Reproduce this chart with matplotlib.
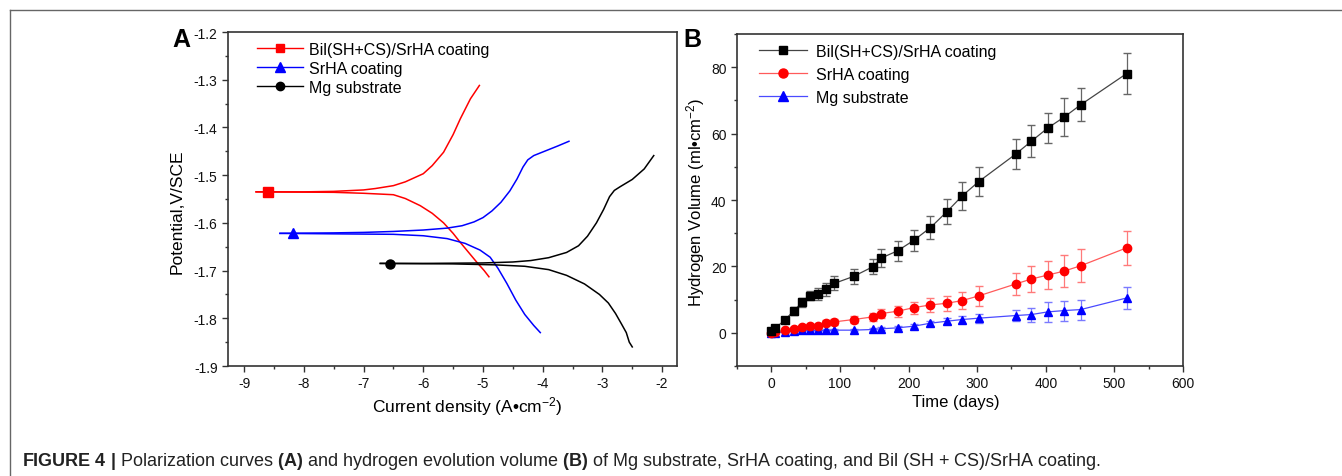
import matplotlib
matplotlib.use('Agg')
import matplotlib.pyplot as plt
from matplotlib.lines import Line2D
from matplotlib.ticker import MultipleLocator, FormatStrFormatter

plt.rcParams['font.family'] = 'Liberation Sans'
plt.rcParams['axes.unicode_minus'] = False
plt.rcParams['mathtext.fontset'] = 'custom'
plt.rcParams['mathtext.rm'] = 'Liberation Sans'
plt.rcParams['mathtext.it'] = 'Liberation Sans'
plt.rcParams['mathtext.bf'] = 'Liberation Sans:bold'

# ---- Panel A: polarization curves (log current density vs potential) ----
labels_a = ['Bil(SH+CS)/SrHA coating', 'SrHA coating', 'Mg substrate']

red_an_x = [-8.8, -8.0, -7.5, -7.0, -6.8, -6.5, -6.3, -6.0, -5.85, -5.66, -5.5, -5.38, -5.21, -5.06]
red_an_y = [-1.535, -1.535, -1.534, -1.531, -1.528, -1.522, -1.514, -1.497, -1.48, -1.452, -1.415, -1.382, -1.34, -1.312]
red_ca_x = [-8.8, -7.5, -7.0, -6.5, -6.3, -6.05, -5.85, -5.66, -5.5, -5.38, -5.24, -5.1, -4.98, -4.9]
red_ca_y = [-1.535, -1.536, -1.538, -1.541, -1.549, -1.564, -1.58, -1.6, -1.622, -1.641, -1.662, -1.683, -1.7, -1.713]

blue_an_x = [-8.4, -7.5, -7.0, -6.5, -6.0, -5.6, -5.35, -5.15, -5.0, -4.85, -4.7, -4.55, -4.43, -4.33, -4.25, -4.15, -3.95, -3.75, -3.56]
blue_an_y = [-1.622, -1.621, -1.62, -1.618, -1.615, -1.611, -1.606, -1.598, -1.589, -1.575, -1.557, -1.533, -1.508, -1.483, -1.468, -1.459, -1.449, -1.439, -1.429]
blue_ca_x = [-8.4, -7.5, -6.5, -6.0, -5.6, -5.3, -5.05, -4.88, -4.75, -4.6, -4.45, -4.3, -4.15, -4.04]
blue_ca_y = [-1.622, -1.623, -1.624, -1.627, -1.633, -1.643, -1.657, -1.672, -1.695, -1.727, -1.762, -1.792, -1.815, -1.83]

black_an_x = [-6.72, -6.0, -5.0, -4.5, -4.2, -3.9, -3.6, -3.4, -3.25, -3.1, -2.98, -2.88, -2.8, -2.7, -2.5, -2.3, -2.14]
black_an_y = [-1.685, -1.685, -1.684, -1.682, -1.679, -1.673, -1.662, -1.648, -1.628, -1.6, -1.572, -1.545, -1.532, -1.524, -1.509, -1.487, -1.459]
black_ca_x = [-6.72, -5.5, -4.8, -4.3, -3.9, -3.6, -3.3, -3.05, -2.9, -2.78, -2.68, -2.6, -2.55, -2.5]
black_ca_y = [-1.685, -1.686, -1.688, -1.691, -1.698, -1.71, -1.728, -1.75, -1.768, -1.79, -1.812, -1.83, -1.85, -1.86]

# corrosion-potential markers
mark_x = [-8.6, -8.18, -6.55]
mark_y = [-1.535, -1.621, -1.686]

# ---- Panel B: hydrogen evolution ----
labels_b = ['Bil(SH+CS)/SrHA coating', 'SrHA coating', 'Mg substrate']
days = [0, 5, 20, 33, 45, 57, 68, 80, 92, 120, 148, 160, 184, 208, 232, 256, 278, 302, 356, 379, 403, 427, 451, 518]
vol_bil = [0.5, 1.3, 3.9, 6.7, 9.2, 11.2, 11.8, 13.1, 14.9, 17.0, 19.9, 22.5, 24.7, 27.9, 31.7, 36.5, 41.2, 45.5, 53.8, 57.7, 61.7, 65.0, 68.7, 78.1]
err_bil = [0.3, 0.4, 0.6, 1.2, 1.4, 1.4, 1.8, 2.0, 2.1, 2.3, 2.3, 2.6, 3.0, 3.2, 3.5, 3.8, 4.2, 4.4, 4.6, 4.8, 4.4, 5.6, 5.0, 6.1]
vol_srha = [0.0, 0.3, 0.7, 1.1, 1.6, 1.9, 2.2, 3.0, 3.3, 4.0, 4.8, 5.8, 6.5, 7.6, 8.4, 8.9, 9.7, 11.1, 14.7, 16.2, 17.4, 18.6, 20.2, 25.6]
err_srha = [0.3, 0.3, 0.4, 0.5, 0.5, 0.5, 0.6, 0.8, 0.9, 1.0, 1.3, 1.4, 1.6, 1.8, 2.0, 2.3, 2.6, 2.9, 3.2, 3.9, 4.3, 4.8, 5.0, 5.2]
vol_mg = [0.0, 0.0, 0.3, 0.5, 0.7, 0.7, 0.7, 0.7, 0.8, 0.8, 1.0, 1.2, 1.5, 2.0, 2.9, 3.5, 4.0, 4.4, 5.2, 5.5, 6.3, 6.7, 7.0, 10.5]
err_mg = [0.2, 0.2, 0.3, 0.3, 0.3, 0.3, 0.3, 0.3, 0.3, 0.3, 0.4, 0.4, 0.5, 0.6, 0.7, 0.9, 1.0, 1.3, 1.6, 2.1, 2.9, 3.0, 3.0, 3.4]

fig = plt.figure(figsize=(13.42, 4.77), dpi=100)

def style_axes(ax):
    for side in ['top', 'right', 'left', 'bottom']:
        ax.spines[side].set_color('#333333')
        ax.spines[side].set_linewidth(1.2)
    ax.tick_params(which='both', direction='out', top=False, right=False, colors='#333333', labelsize=10, labelcolor='#111111')
    ax.tick_params(which='major', length=4, width=1)
    ax.tick_params(which='minor', length=2.5, width=1)

# Panel A
axa = fig.add_axes([0.1699, 0.2306, 0.3346, 0.7002])
axa.plot(red_an_x, red_an_y, color='red', lw=1.1)
axa.plot(red_ca_x, red_ca_y, color='red', lw=1.1)
axa.plot(blue_an_x, blue_an_y, color='blue', lw=1.1)
axa.plot(blue_ca_x, blue_ca_y, color='blue', lw=1.1)
axa.plot(black_an_x, black_an_y, color='black', lw=1.1)
axa.plot(black_ca_x, black_ca_y, color='black', lw=1.1)
axa.plot(mark_x[0], mark_y[0], 's', color='red', ms=6.5)
axa.plot(mark_x[1], mark_y[1], '^', color='blue', ms=7)
axa.plot(mark_x[2], mark_y[2], 'o', color='black', ms=6.5)
axa.set_xlim(-9.27, -1.75)
axa.set_ylim(-1.9, -1.2)
axa.xaxis.set_major_locator(MultipleLocator(1))
axa.xaxis.set_minor_locator(MultipleLocator(0.5))
axa.yaxis.set_major_locator(MultipleLocator(0.1))
axa.yaxis.set_minor_locator(MultipleLocator(0.05))
axa.yaxis.set_major_formatter(FormatStrFormatter('%.1f'))
style_axes(axa)
axa.set_xlabel('Current density (A•cm$^{-2}$)', fontsize=12.5)
axa.set_ylabel('Potential,V/SCE', fontsize=12.5)
axa.xaxis.set_label_coords(0.532, -0.085)
axa.yaxis.set_label_coords(-0.096, 0.464)

handles_a = [Line2D([0], [0], color='red', marker='s', ms=6, lw=1),
             Line2D([0], [0], color='blue', marker='^', ms=6.5, lw=1),
             Line2D([0], [0], color='black', marker='o', ms=6, lw=1)]
axa.legend(handles_a, labels_a, loc='upper left', bbox_to_anchor=(0.065, 0.97), frameon=False,
           fontsize=11.5, handlelength=2.85, handletextpad=0.4, labelspacing=0.25, borderpad=0,
           borderaxespad=0, numpoints=1)

# Panel B
axb = fig.add_axes([0.5492, 0.2306, 0.3323, 0.696])
axb.errorbar(days, vol_mg, yerr=err_mg, fmt='-^', color='#4a4aff', mfc='blue', mec='blue', ms=6,
             lw=0.9, ecolor='#7a7aff', elinewidth=0.9, capsize=3)
axb.errorbar(days, vol_srha, yerr=err_srha, fmt='-o', color='#ff5a5a', mfc='red', mec='red', ms=6,
             lw=0.9, ecolor='#ff7a7a', elinewidth=0.9, capsize=3)
axb.errorbar(days, vol_bil, yerr=err_bil, fmt='-s', color='#444444', mfc='black', mec='black', ms=5.5,
             lw=0.9, ecolor='#666666', elinewidth=0.9, capsize=3)
axb.set_xlim(-50, 600)
axb.set_ylim(-10, 90)
axb.xaxis.set_major_locator(MultipleLocator(100))
axb.xaxis.set_minor_locator(MultipleLocator(50))
axb.yaxis.set_major_locator(MultipleLocator(20))
axb.yaxis.set_minor_locator(MultipleLocator(10))
style_axes(axb)
axb.set_xlabel('Time (days)', fontsize=12)
axb.set_ylabel('Hydrogen Volume (ml•cm$^{-2}$)', fontsize=12)
axb.xaxis.set_label_coords(0.49, -0.085)
axb.yaxis.set_label_coords(-0.067, 0.497)

handles_b = [Line2D([0], [0], color='#444444', marker='s', mfc='black', mec='black', ms=5.5, lw=0.9),
             Line2D([0], [0], color='#ff5a5a', marker='o', mfc='red', mec='red', ms=6.5, lw=0.9),
             Line2D([0], [0], color='#4a4aff', marker='^', mfc='blue', mec='blue', ms=6.5, lw=0.9)]
axb.legend(handles_b, labels_b, loc='upper left', bbox_to_anchor=(0.049, 0.97), frameon=False,
           fontsize=11.5, handlelength=3.0, handletextpad=0.6, labelspacing=0.5, borderpad=0,
           borderaxespad=0, numpoints=1)

# panel letters
fig.text(172 / 1342, 1 - 47 / 477, 'A', fontsize=18, fontweight='bold', va='baseline')
fig.text(683 / 1342, 1 - 47 / 477, 'B', fontsize=18, fontweight='bold', va='baseline')

# caption
fig.text(22 / 1342, 1 - 466 / 477,
         r'$\mathbf{FIGURE\ 4\ |}$ Polarization curves $\mathbf{(A)}$ and hydrogen evolution volume '
         r'$\mathbf{(B)}$ of Mg substrate, SrHA coating, and Bil (SH + CS)/SrHA coating.',
         fontsize=13, va='baseline', color='#222222')

# figure frame (top and left rules)
fig.add_artist(Line2D([10 / 1342, 1], [1 - 10.5 / 477, 1 - 10.5 / 477], color='#666666', lw=1))
fig.add_artist(Line2D([10 / 1342, 10 / 1342], [0, 1 - 10.5 / 477], color='#666666', lw=1))

fig.savefig('out.png', dpi=100)
